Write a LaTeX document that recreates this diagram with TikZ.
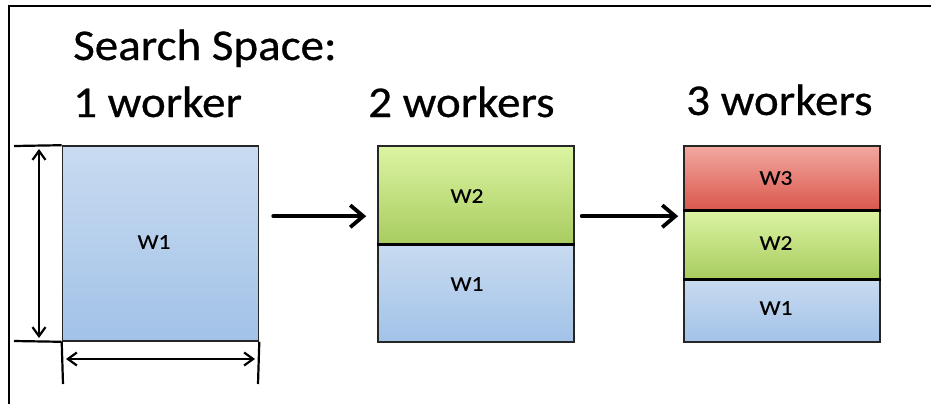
\documentclass[tikz,border=0pt]{standalone}
\usepackage{fontspec}
\setmainfont{Carlito}
\newfontfamily\headfont[FakeStretch=1.07,FakeBold=0.6]{Carlito}
\newfontfamily\cellfont[FakeStretch=1.12,FakeBold=0.3]{Carlito}
\usetikzlibrary{arrows.meta,calc}
\definecolor{bluetop}{HTML}{C8DBF0}
\definecolor{bluebot}{HTML}{A2C2E8}
\definecolor{greentop}{HTML}{DCF4A2}
\definecolor{greenbot}{HTML}{A8CC5F}
\definecolor{redtop}{HTML}{F2A8A0}
\definecolor{redbot}{HTML}{D9574C}
\tikzset{
  cell/.style={draw=black!85, line width=1.6pt, minimum width=196pt, inner sep=0pt},
  bluecell/.style={cell, top color=bluetop, bottom color=bluebot},
  greencell/.style={cell, top color=greentop, bottom color=greenbot},
  redcell/.style={cell, top color=redtop, bottom color=redbot},
  celltext/.style={inner sep=0pt, font=\cellfont\fontsize{21}{24}\selectfont},
  divider/.style={draw=black, line width=2.8pt},
  bigarrow/.style={line width=4pt, line cap=round, -{Straight Barb[length=13pt,width=22pt,line width=3.8pt]}},
  dimline/.style={line width=2.2pt, {Straight Barb[length=9pt,width=13pt,line width=2.2pt]}-{Straight Barb[length=9pt,width=13pt,line width=2.2pt]}},
  extline/.style={line width=2.2pt},
  heading/.style={anchor=base west, inner sep=0pt, font=\headfont\fontsize{44}{52}\selectfont},
  frame/.style={line width=2pt}
}
\begin{document}
\begin{tikzpicture}[x=1pt,y=-1pt]
\useasboundingbox (0,0) rectangle (931,404);
% frame
\coordinate (fTL) at (8.5,6.5);
\coordinate (fTR) at (931,6.5);
\coordinate (fBL) at (8.5,404);
\draw[frame] (fBL) -- (fTL) -- (fTR);
% headings
\node[heading] (hs) at (73,60) {Search Space:};
\node[heading] (h1) at (73,117) {1 worker};
\node[heading] (h2) at (368,117) {2 workers};
\node[heading] (h3) at (686,115) {3 workers};
% box 1
\node[bluecell, minimum height=195pt] (b1) at (160.5,243.5) {};
\node[celltext] (t1) at (154,242) {W1};
% box 2
\node[greencell, minimum height=98pt] (b2g) at (476,195) {};
\node[bluecell, minimum height=98pt] (b2b) at (476,293) {};
\draw[divider] (b2g.south west) -- (b2g.south east);
\node[celltext] (t2g) at (467,196) {W2};
\node[celltext] (t2b) at (467,284) {W1};
% box 3
\node[redcell, minimum height=64pt] (b3r) at (782,178) {};
\node[greencell, minimum height=69pt] (b3g) at (782,244.5) {};
\node[bluecell, minimum height=63pt] (b3b) at (782,310.5) {};
\draw[divider] (b3r.south west) -- (b3r.south east);
\draw[divider] (b3g.south west) -- (b3g.south east);
\node[celltext] (t3r) at (776,178) {W3};
\node[celltext] (t3g) at (776,243) {W2};
\node[celltext] (t3b) at (776,308) {W1};
% arrows
\draw[bigarrow] ($(b1.north east)+(14,71)$) -- ($(b2g.north west)+(-11,71)$);
\draw[bigarrow] ($(b2g.north east)+(7,71)$) -- ($(b3r.north west)+(-5,71)$);
% dimension lines
\coordinate (v1) at (14,146);
\coordinate (v2) at (14,341);
\draw[extline] (v1) -- (b1.north west);
\draw[extline] (v2) -- (b1.south west);
\draw[dimline] (39,149) -- (39,338);
\coordinate (h1e) at (63,384);
\coordinate (h2e) at (258,384);
\draw[extline] (b1.south west) -- (h1e);
\draw[extline] (b1.south east) -- (h2e);
\draw[dimline] (66,359) -- (255,359);
\end{tikzpicture}
\end{document}
